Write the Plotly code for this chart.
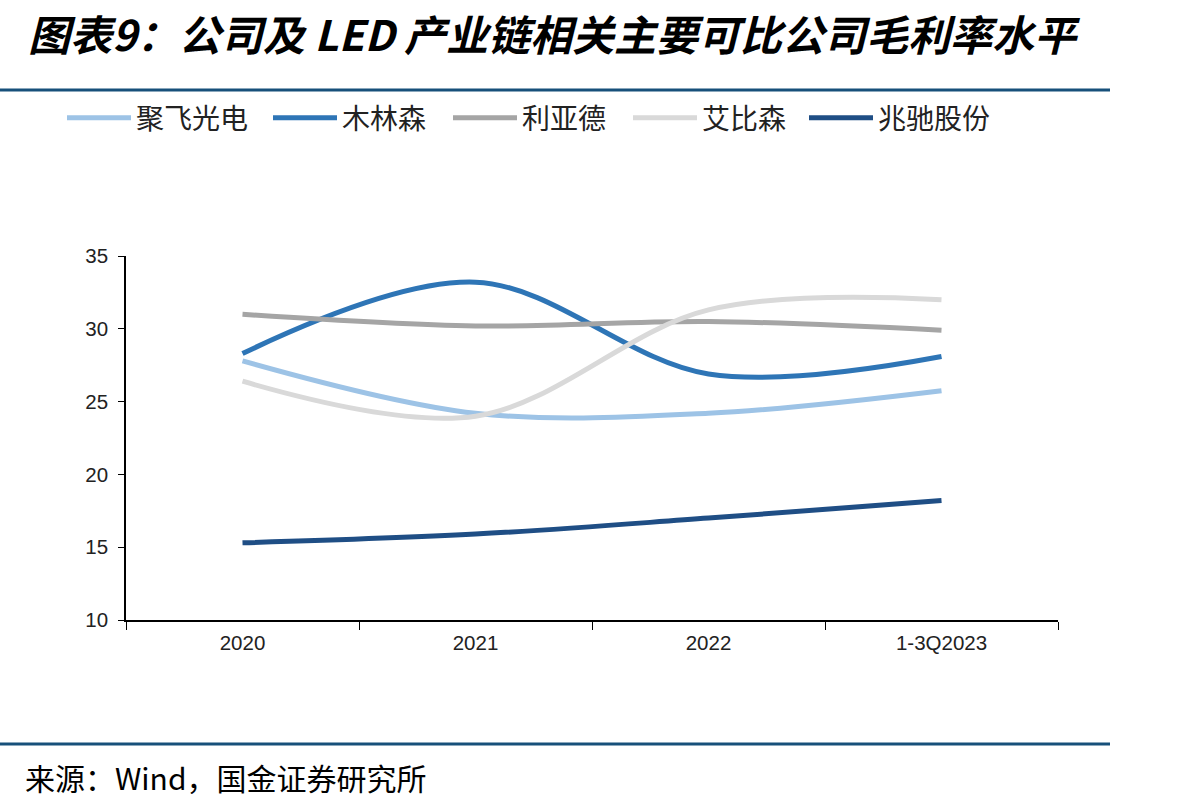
import plotly.graph_objects as go

categories = ["2020", "2021", "2022", "1-3Q2023"]
names = ["聚飞光电", "木林森", "利亚德", "艾比森", "兆驰股份"]
juFei = [27.8, 24.2, 24.2, 25.75]
muLinSen = [28.3, 33.2, 26.9, 28.1]
liYaDe = [31.0, 30.2, 30.5, 29.9]
aiBiSen = [26.4, 24.0, 31.3, 32.0]
zhaoChi = [15.3, 15.9, 17.0, 18.2]
series = [juFei, muLinSen, liYaDe, aiBiSen, zhaoChi]
colors = ["#9DC3E6", "#2E75B6", "#A5A5A5", "#D9D9D9", "#1F4E85"]
legend_ids = ["legend", "legend2", "legend2", "legend2", "legend3"]

W, H = 1204, 806
L, R, T, B = 126, 1058, 256, 620  # plot area in px

def px_x(px):
    return (px - L) / (R - L)

def px_y(py):
    return (B - py) / (B - T)

fig = go.Figure()
for n, s, c, lg in zip(names, series, colors, legend_ids):
    fig.add_trace(go.Scatter(
        x=categories, y=s, name=n, mode="lines", legend=lg,
        line=dict(color=c, width=5, shape="spline", smoothing=1.0),
    ))

cjk = "Noto Sans CJK SC"
legend_common = dict(
    orientation="h", y=px_y(118), xanchor="left", yanchor="middle",
    font=dict(family=cjk, size=28, color="#222222"),
    itemwidth=64, itemsizing="constant", bgcolor="rgba(0,0,0,0)",
)

fig.update_layout(
    width=W, height=H,
    margin=dict(l=L, r=W - R, t=T, b=H - B),
    paper_bgcolor="white", plot_bgcolor="white",
    showlegend=True,
    legend=dict(x=px_x(62), **legend_common),
    legend2=dict(x=px_x(268), entrywidth=101, entrywidthmode="pixels", **legend_common),
    legend3=dict(x=px_x(804), **legend_common),
    xaxis=dict(
        type="category", range=[-0.5, 3.5],
        showline=True, linecolor="#000000", linewidth=1.5,
        ticks="outside", ticklen=8, tickcolor="#000000", tickwidth=1.2,
        tickson="boundaries", showgrid=False, zeroline=False,
        ticklabelstandoff=4,
        tickfont=dict(family="Liberation Sans, Arial", size=20.5, color="#222222"),
        fixedrange=True,
    ),
    yaxis=dict(
        range=[10, 35], tickvals=[10, 15, 20, 25, 30, 35],
        showline=True, linecolor="#000000", linewidth=1.5,
        ticks="outside", ticklen=6, tickcolor="#000000", tickwidth=1.2,
        showgrid=False, zeroline=False,
        ticklabelstandoff=6,
        tickfont=dict(family="Liberation Sans, Arial", size=20.5, color="#222222"),
        fixedrange=True,
    ),
)

# title
fig.add_annotation(
    text="<b><i>图表9：公司及 LED 产业链相关主要可比公司毛利率水平</i></b>",
    xref="paper", yref="paper", x=px_x(26), y=px_y(32),
    xanchor="left", yanchor="middle", showarrow=False,
    font=dict(family=cjk, size=42, color="#000000"),
)
# source
fig.add_annotation(
    text="来源：Wind，国金证券研究所",
    xref="paper", yref="paper", x=px_x(23), y=px_y(777),
    xanchor="left", yanchor="middle", showarrow=False,
    font=dict(family=cjk, size=30, color="#000000"),
)
# rules
for py in (90, 744):
    fig.add_shape(
        type="line", xref="paper", yref="paper",
        x0=px_x(0), x1=px_x(1110), y0=px_y(py), y1=px_y(py),
        line=dict(color="#17507A", width=3),
    )

fig.write_html("out.html")
